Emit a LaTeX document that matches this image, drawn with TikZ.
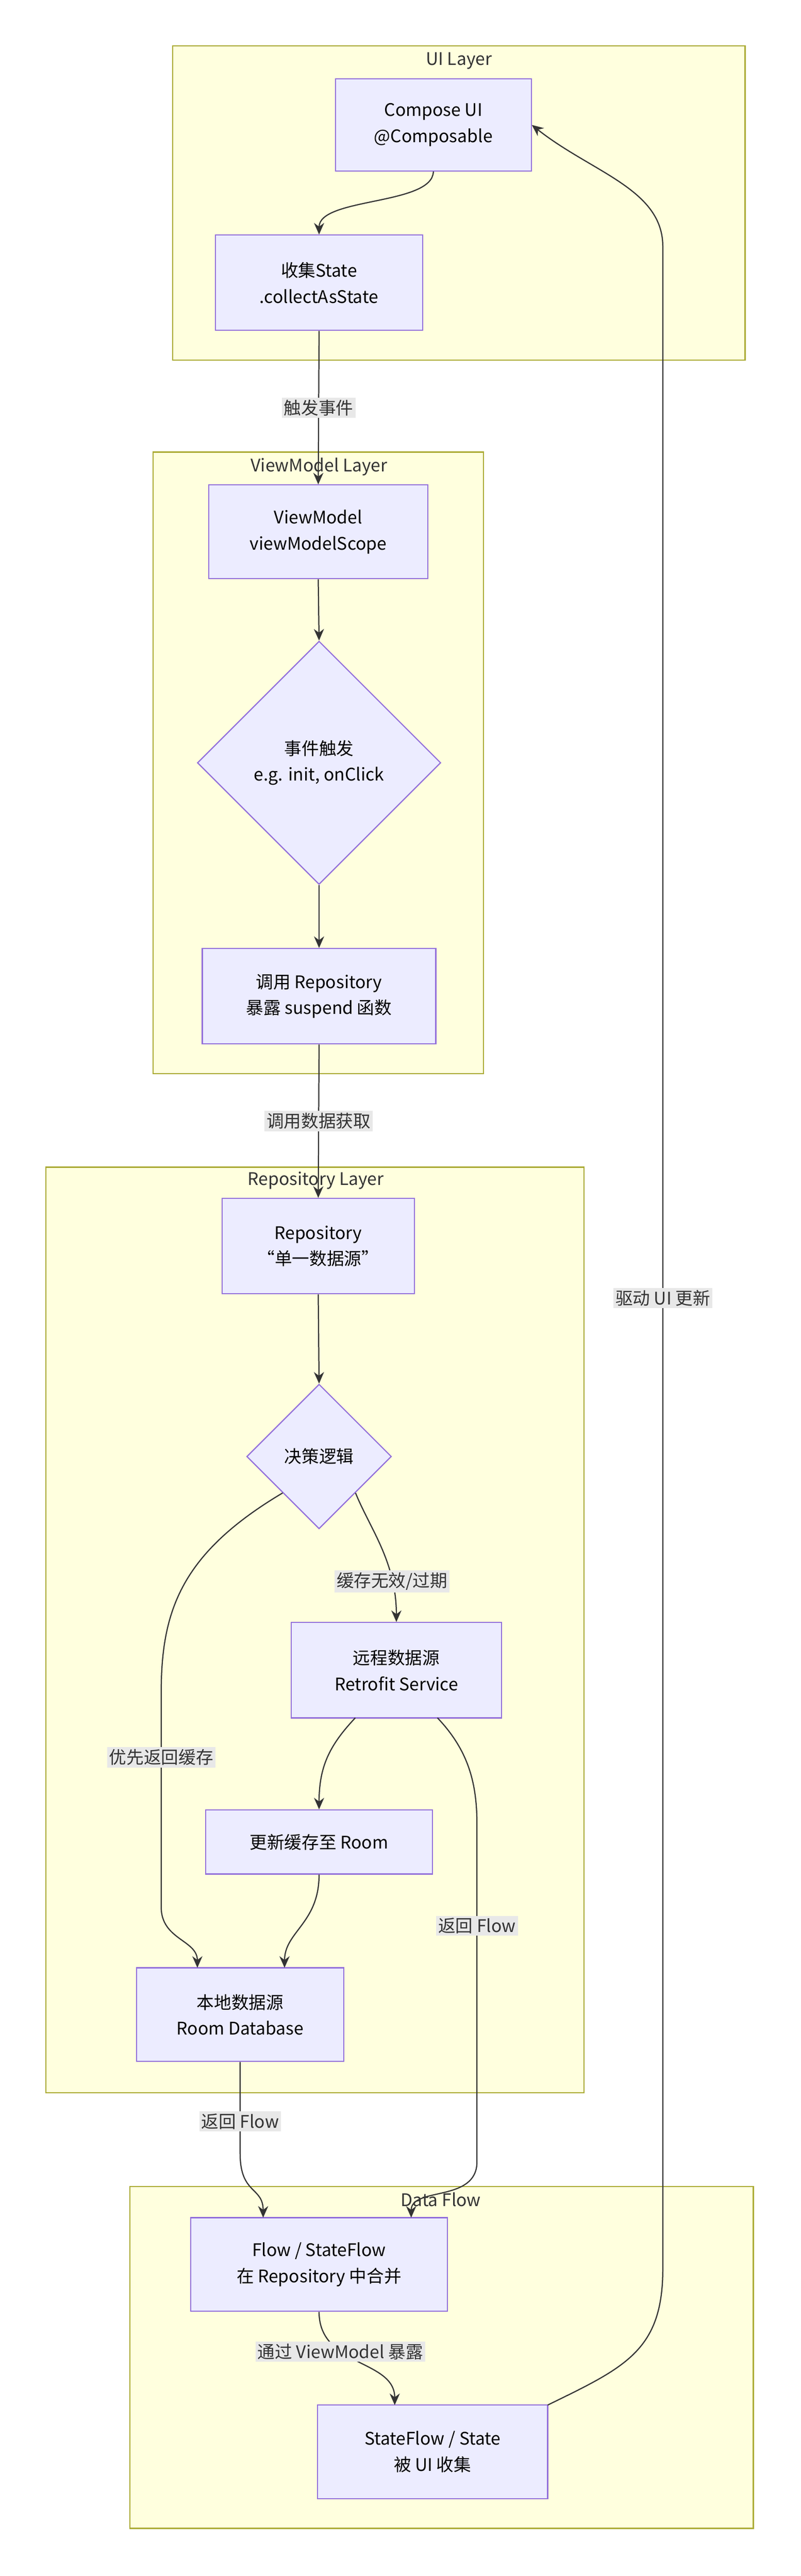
\documentclass[tikz,border=0pt]{standalone}
\usepackage{fontspec}
\setmainfont{Noto Sans CJK SC}
\usetikzlibrary{shapes.geometric,arrows.meta}
\definecolor{nodefill}{HTML}{ECECFF}
\definecolor{nodeline}{HTML}{9370DB}
\definecolor{clfill}{HTML}{FFFFDE}
\definecolor{clline}{HTML}{AAAA33}
\definecolor{edgecol}{HTML}{333333}
\definecolor{lblfill}{HTML}{E8E8E8}
\tikzset{
  box/.style={draw=nodeline,fill=nodefill,line width=0.8pt,align=center,inner sep=0pt,font=\fontsize{12}{18}\selectfont},
  dec/.style={draw=nodeline,fill=nodefill,line width=0.8pt,diamond,align=center,inner sep=0pt,font=\fontsize{12}{18}\selectfont},
  cluster/.style={draw=clline,fill=clfill,line width=0.8pt},
  cltitle/.style={font=\fontsize{12}{14}\selectfont,text=edgecol},
  flow/.style={draw=edgecol,line width=0.8pt,-{Stealth[length=8pt,width=7pt]}},
  lbl/.style={fill=lblfill,inner sep=1.5pt,font=\fontsize{12}{14}\selectfont,text=edgecol}
}
\newcommand{\mBox}[6]{\node[box,minimum width=#3*0.04cm,minimum height=#4*0.04cm] (#1) at (#2) {#5\\#6}}
\begin{document}
\begin{tikzpicture}[x=0.04cm,y=-0.04cm]
  \useasboundingbox (0,0) rectangle (487,1567);
  % clusters
  \draw[cluster] (105,28) rectangle (453,219);
  \node[cltitle] at (279,37) {UI Layer};
  \draw[cluster] (93,275) rectangle (294,653);
  \node[cltitle] at (194,284) {ViewModel Layer};
  \draw[cluster] (28,710) rectangle (355,1273);
  \node[cltitle] at (192,718) {Repository Layer};
  \draw[cluster] (79,1330) rectangle (458,1538);
  \node[cltitle] at (268,1338) {Data Flow};
  % nodes
  \mBox{ui}{263.5,76}{119}{56}{Compose UI}{@Composable};
  \mBox{collect}{194,172}{126}{58}{收集State}{.collectAsState};
  \mBox{vm}{193.5,323.5}{133}{57}{ViewModel}{viewModelScope};
  \node[dec,minimum width=148*0.04cm,minimum height=148*0.04cm] (event) at (194,464) {事件触发\\e.g. init, onClick};
  \mBox{call}{194,606}{142}{58}{调用 Repository}{暴露 suspend 函数};
  \mBox{repo}{193.5,758}{117}{58}{Repository}{“单一数据源”};
  \node[dec,minimum width=88*0.04cm,minimum height=88*0.04cm] (logic) at (194,886) {决策逻辑};
  \mBox{remote}{241,1016}{128}{58}{远程数据源}{Retrofit Service};
  \node[box,minimum width=138*0.04cm,minimum height=39*0.04cm] (update) at (194,1120.5) {更新缓存至 Room};
  \mBox{local}{146,1225.5}{126}{57}{本地数据源}{Room Database};
  \mBox{merge}{194,1377.5}{156}{57}{Flow / StateFlow}{在 Repository 中合并};
  \mBox{state}{263,1491.5}{140}{57}{StateFlow / State}{被 UI 收集};
  % connectors
  \draw[flow] (ui.south) .. controls (263,125) and (194,120) .. (collect.north);
  \draw[flow] (collect.south) -- node[lbl,pos=0.5]{触发事件} (vm.north);
  \draw[flow] (vm.south) -- (event.north);
  \draw[flow] (event.south) -- (call.north);
  \draw[flow] (call.south) -- node[lbl,pos=0.5]{调用数据获取} (repo.north);
  \draw[flow] (repo.south) -- (logic.north);
  \draw[flow] (logic.south east) .. controls (225,930) and (241,950) .. node[lbl,pos=0.75]{缓存无效/过期} (remote.north);
  \draw[flow] (logic.south west) .. controls (110,945) and (98,980) .. (98,1030)
    -- node[lbl,pos=0.3]{优先返回缓存} (98,1160) .. controls (98,1180) and (120,1180) .. (120,1197);
  \draw[flow] (216,1045) .. controls (200,1062) and (194,1075) .. (update.north);
  \draw[flow] (update.south) .. controls (194,1170) and (173,1175) .. (173,1197);
  \draw[flow] (266,1045) .. controls (285,1065) and (290,1085) .. (290,1110)
    -- node[lbl,pos=0.3]{返回 Flow} (290,1315) .. controls (290,1340) and (250,1330) .. (250,1349);
  \draw[flow] (local.south) -- node[lbl,pos=0.65]{返回 Flow} (146,1310) .. controls (146,1335) and (160,1330) .. (160,1349);
  \draw[flow] (merge.south) .. controls (194,1440) and (240,1435) .. node[lbl,pos=0.35]{通过 ViewModel 暴露} (240,1463);
  \draw[flow] (333,1463) .. controls (380,1440) and (403,1430) .. (403,1380)
    -- node[lbl,pos=0.48]{驱动 UI 更新} (403,150) .. controls (403,115) and (360,105) .. (ui.east);
\end{tikzpicture}
\end{document}
